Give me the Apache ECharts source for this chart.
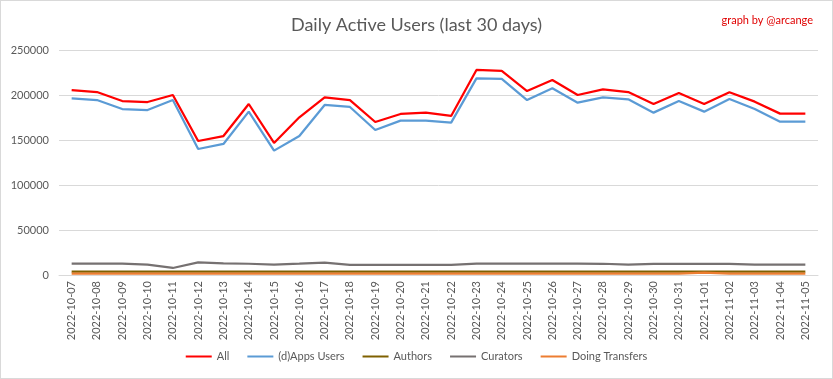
<!DOCTYPE html>
<html><head><meta charset="utf-8">
<script src="https://cdn.jsdelivr.net/npm/echarts@6/dist/echarts.min.js"></script>
<style>html,body{margin:0;padding:0;background:#fff}#c{width:831px;height:377px;border:1px solid #d9d9d9}</style>
</head><body><div id="c"></div>
<script>
const categories = ["2022-10-07","2022-10-08","2022-10-09","2022-10-10","2022-10-11","2022-10-12","2022-10-13","2022-10-14","2022-10-15","2022-10-16","2022-10-17","2022-10-18","2022-10-19","2022-10-20","2022-10-21","2022-10-22","2022-10-23","2022-10-24","2022-10-25","2022-10-26","2022-10-27","2022-10-28","2022-10-29","2022-10-30","2022-10-31","2022-11-01","2022-11-02","2022-11-03","2022-11-04","2022-11-05"];
const allUsers = [205500,203300,193300,192200,200000,148900,154400,190000,146700,175200,197400,194400,170000,178900,180300,176700,227800,226700,204400,216700,200000,206300,203300,190000,202200,190000,203000,192600,179300,179300];
const appsUsers = [196300,194400,184400,183300,194400,140000,145600,181500,138200,154400,188900,186700,161100,171500,171500,169300,218500,217800,194400,207400,191500,197400,195200,180400,193300,181500,195600,184400,170400,170400];
const authors = [3800,3800,3800,3800,3700,3800,3800,3800,3700,3800,3800,3800,3700,3800,3800,3800,3800,3800,3800,3800,3800,3800,3700,3800,3800,3800,3800,3800,3700,3700];
const curators = [12600,12700,12600,11500,7800,14000,12800,12500,11500,12600,13800,11300,11200,11300,11300,11300,12600,12600,12600,12600,12600,12500,11400,12400,12400,12500,12400,11500,11400,11400];
const transfers = [1600,1600,1600,1600,1500,1600,1600,1600,1500,1600,1600,1600,1500,1600,1600,1600,1600,1600,1600,1600,1600,1600,1500,1600,1600,2600,1600,1600,1500,1500];
const yTicks = [0,50000,100000,150000,200000,250000];

const font = "Lato, 'Open Sans', sans-serif";
const chart = echarts.init(document.getElementById('c'));
const mk = (name, data, color, w) => ({name, type:'line', data, symbol:'none', smooth:false, lineStyle:{color, width:w}, itemStyle:{color}});
chart.setOption({
  animation:false,
  title:[{text:'Daily Active Users (last 30 days)', left:'center', top:10, textStyle:{color:'#595959', fontSize:18, fontWeight:'normal', fontFamily:font}},
         {text:'graph by @arcange', right:14, top:9, textStyle:{color:'#e00000', fontSize:11, fontWeight:'normal', fontFamily:font}}],
  legend:{bottom:11, left:'center', icon:'rect', itemWidth:26, itemHeight:2, itemGap:18, textStyle:{color:'#595959', fontSize:11, fontFamily:font},
    data:['All','(d)Apps Users','Authors','Curators','Doing Transfers']},
  grid:{left:58, right:14, top:49, bottom:103, containLabel:false},
  xAxis:{type:'category', data:categories, boundaryGap:true,
    axisLine:{lineStyle:{color:'#d9d9d9'}}, axisTick:{show:false},
    axisLabel:{rotate:90, color:'#595959', fontSize:11, fontFamily:font, interval:0, margin:6}},
  yAxis:{type:'value', min:yTicks[0], max:yTicks[yTicks.length-1], interval:50000,
    axisLine:{show:false}, axisTick:{show:false},
    splitLine:{lineStyle:{color:'#d9d9d9'}},
    axisLabel:{color:'#595959', fontSize:11, fontFamily:font, margin:10, formatter:v=>String(v)}},
  series:[
    mk('All', allUsers, '#ff0000', 2.25),
    mk('(d)Apps Users', appsUsers, '#5b9bd5', 2.25),
    mk('Authors', authors, '#7f6000', 2.25),
    mk('Curators', curators, '#767171', 2.25),
    mk('Doing Transfers', transfers, '#ed7d31', 2.25)
  ]
});
</script></body></html>
